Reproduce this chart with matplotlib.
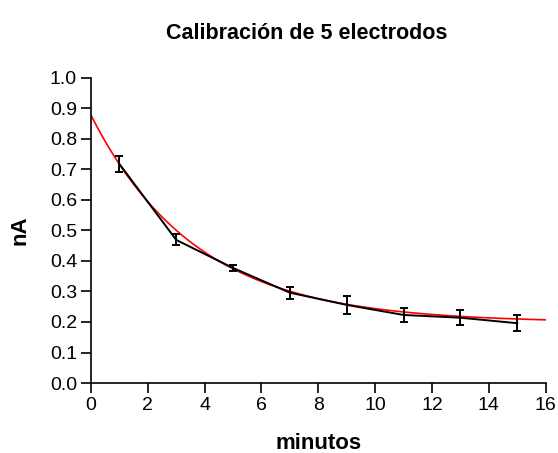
import matplotlib.pyplot as plt
import numpy as np

plt.rcParams['font.family'] = ['Liberation Sans', 'DejaVu Sans']

# mean current per time point, with error bars
minutos = [1, 3, 5, 7, 9, 11, 13, 15]
corriente = [0.718, 0.469, 0.377, 0.296, 0.256, 0.223, 0.214, 0.196]
error = [0.025, 0.018, 0.010, 0.020, 0.030, 0.024, 0.025, 0.026]

# single exponential decay fit: y = plateau + span * exp(-k x)
plateau = 0.198
span = 0.68
k = 0.27

fig = plt.figure(figsize=(5.58, 4.53), dpi=100)
ax = fig.add_axes([0.163, 0.1545, 0.815, 0.6735])

xfit = np.linspace(0, 16, 300)
ax.plot(xfit, plateau + span * np.exp(-k * xfit), color='red', lw=1.2)
ax.errorbar(minutos, corriente, yerr=error, color='black', lw=1.4,
            elinewidth=1.4, capsize=3, capthick=1.4)

ax.set_xlim(0, 16)
ax.set_ylim(0, 1.0)
ax.set_xticks(range(0, 17, 2))
ax.set_yticks(np.arange(0, 1.01, 0.1))
ax.set_yticklabels([f"{v:.1f}" for v in np.arange(0, 1.01, 0.1)])
ax.spines['top'].set_visible(False)
ax.spines['right'].set_visible(False)
ax.spines['left'].set_linewidth(1.2)
ax.spines['bottom'].set_linewidth(1.2)
ax.tick_params(direction='out', length=7, width=1.2, labelsize=14, pad=3)

ax.set_xlabel("minutos", fontsize=16, fontweight='bold', labelpad=14)
ax.set_ylabel("nA", fontsize=16, fontweight='bold', labelpad=14)
fig.suptitle("Calibración de 5 electrodos", fontsize=15.5, fontweight='bold',
             x=0.55, y=0.95)

plt.savefig('out.png')
